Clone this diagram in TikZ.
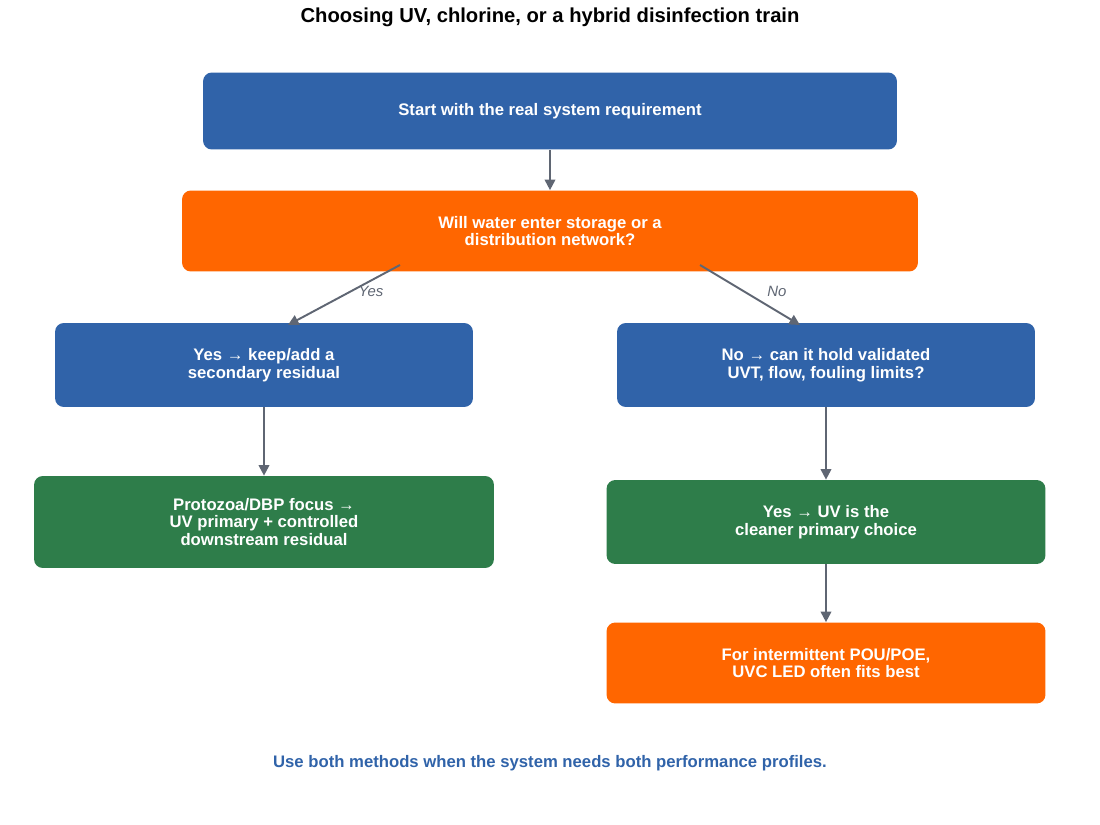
\documentclass[tikz,border=0pt]{standalone}
\usepackage{fontspec}
\setmainfont{Liberation Sans}
\usetikzlibrary{positioning,arrows.meta}
\definecolor{boxblue}{HTML}{3063A9}
\definecolor{boxorange}{HTML}{FF6600}
\definecolor{boxgreen}{HTML}{2E7D4A}
\definecolor{linegray}{HTML}{5F6673}
\tikzset{
  flowbox/.style={rounded corners=5pt, text=white, font=\bfseries\fontsize{9.5}{10}\selectfont, align=center, inner sep=0pt},
  flow/.style={draw=linegray, line width=1.1pt, -{Triangle[length=6pt,width=6pt]}},
  tag/.style={text=linegray, font=\itshape\fontsize{8.5}{10}\selectfont}
}
\begin{document}
\begin{tikzpicture}[x=0.02cm, y=-0.02cm]
  \useasboundingbox (0,0) rectangle (1100,825);
  \node[font=\bfseries\fontsize{11.5}{13}\selectfont] (title) at (550,17) {Choosing UV, chlorine, or a hybrid disinfection train};
  \node[flowbox, fill=boxblue, minimum width=13.88cm, minimum height=1.54cm] (start) at (550,111) {Start with the real system requirement};
  \node[flowbox, fill=boxorange, minimum width=14.72cm, minimum height=1.62cm] (storage) at (550,231) {Will water enter storage or a\\distribution network?};
  \node[flowbox, fill=boxblue, minimum width=8.36cm, minimum height=1.68cm] (residual) at (264,365) {Yes → keep/add a\\secondary residual};
  \node[flowbox, fill=boxblue, minimum width=8.36cm, minimum height=1.68cm] (hold) at (826,365) {No → can it hold validated\\UVT, flow, fouling limits?};
  \node[flowbox, fill=boxgreen, minimum width=9.2cm, minimum height=1.84cm] (protozoa) at (264,522) {Protozoa/DBP focus →\\UV primary + controlled\\downstream residual};
  \node[flowbox, fill=boxgreen, minimum width=8.78cm, minimum height=1.68cm] (uvchoice) at (826,522) {Yes → UV is the\\cleaner primary choice};
  \node[flowbox, fill=boxorange, minimum width=8.78cm, minimum height=1.62cm] (led) at (826,663) {For intermittent POU/POE,\\UVC LED often fits best};
  \node[text=boxblue, font=\bfseries\fontsize{9.5}{11}\selectfont] (note) at (550,763) {Use both methods when the system needs both performance profiles.};
  \coordinate (yesfrom) at (400,265);
  \coordinate (yesto) at (288,325);
  \coordinate (nofrom) at (700,265);
  \coordinate (noto) at (800,325);
  \draw[flow] (start) -- (storage);
  \draw[flow] (yesfrom) -- (yesto);
  \draw[flow] (nofrom) -- (noto);
  \node[tag] (yes) at (371,291) {Yes};
  \node[tag] (no) at (777,291) {No};
  \draw[flow] (residual) -- (protozoa);
  \draw[flow] (hold) -- (uvchoice);
  \draw[flow] (uvchoice) -- (led);
\end{tikzpicture}
\end{document}
